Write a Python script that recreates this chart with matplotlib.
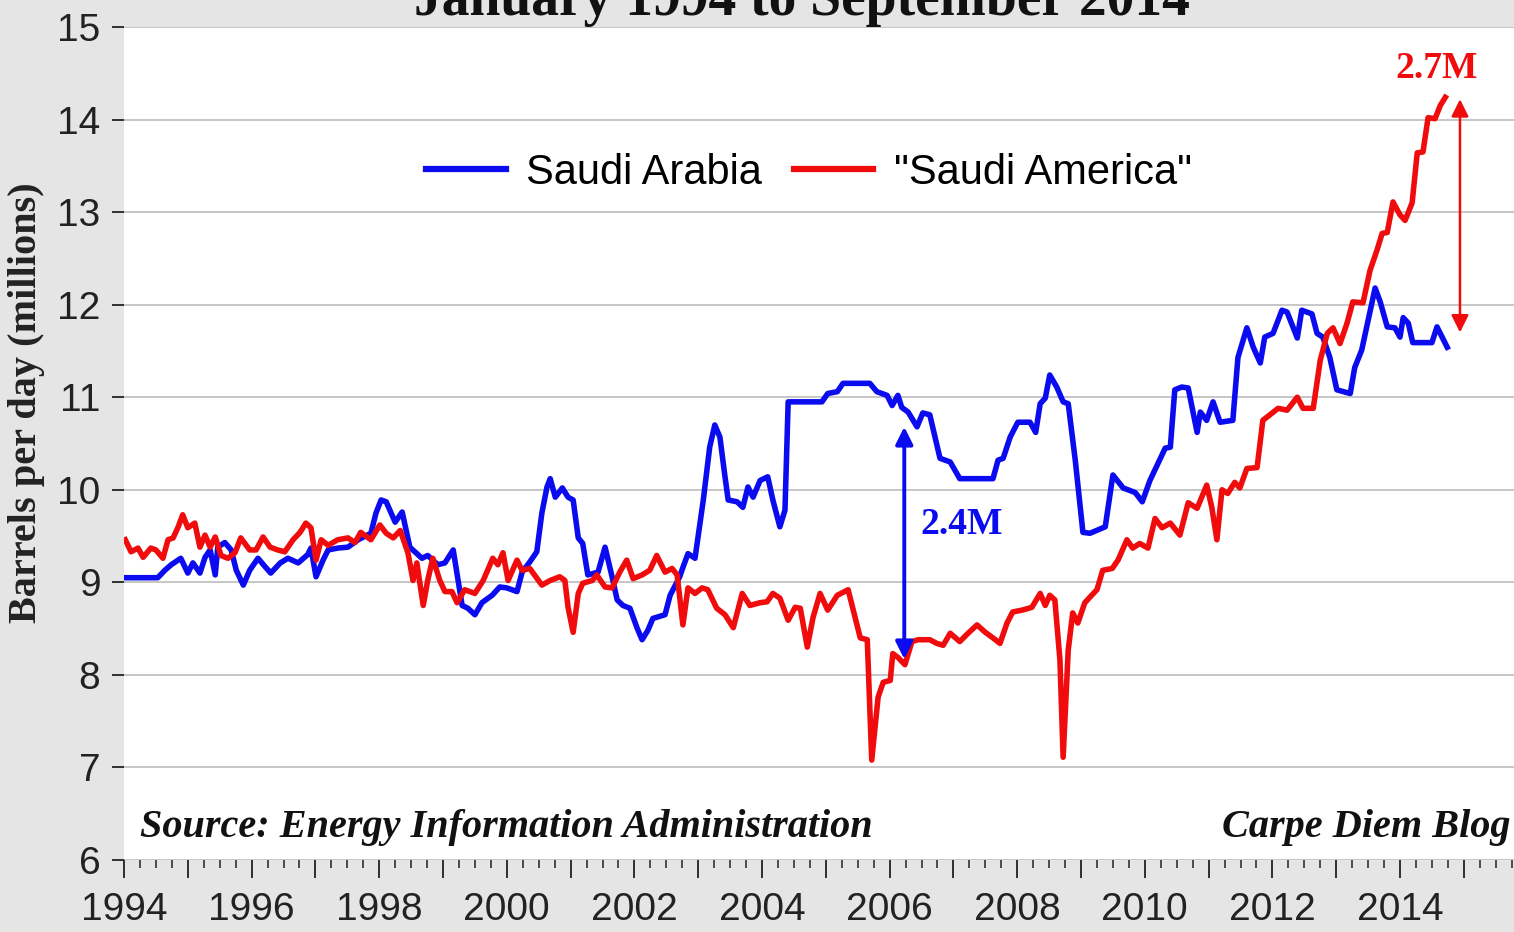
import matplotlib.pyplot as plt
from matplotlib.ticker import MultipleLocator, FuncFormatter

# Saudi Arabia crude production (million b/d)
sa_years = [1994.02, 1994.53, 1994.64, 1994.74, 1994.89, 1995.00, 1995.08, 1995.19, 1995.27, 1995.35,
            1995.43, 1995.47, 1995.58, 1995.68, 1995.76, 1995.87, 1995.97, 1996.05, 1996.10, 1996.21,
            1996.30, 1996.45, 1996.57, 1996.73, 1996.88, 1996.93, 1997.01, 1997.12, 1997.20, 1997.35,
            1997.51, 1997.67, 1997.87, 1997.95, 1998.03, 1998.11, 1998.25, 1998.36, 1998.48, 1998.67,
            1998.76, 1998.92, 1999.03, 1999.16, 1999.30, 1999.39, 1999.50, 1999.61, 1999.77, 1999.89,
            2000.00, 2000.16, 2000.24, 2000.36, 2000.47, 2000.55, 2000.63, 2000.68, 2000.76, 2000.87,
            2000.96, 2001.04, 2001.12, 2001.19, 2001.27, 2001.43, 2001.54, 2001.65, 2001.73, 2001.82,
            2001.93, 2002.04, 2002.12, 2002.21, 2002.29, 2002.48, 2002.56, 2002.71, 2002.76, 2002.84,
            2002.95, 2003.08, 2003.18, 2003.26, 2003.34, 2003.42, 2003.47, 2003.61, 2003.70, 2003.78,
            2003.86, 2003.97, 2004.09, 2004.17, 2004.28, 2004.36, 2004.41, 2004.94, 2005.03, 2005.18,
            2005.27, 2005.69, 2005.80, 2005.96, 2006.04, 2006.13, 2006.19, 2006.29, 2006.43, 2006.52,
            2006.63, 2006.79, 2006.95, 2007.10, 2007.62, 2007.70, 2007.78, 2007.89, 2008.01, 2008.20,
            2008.29, 2008.36, 2008.44, 2008.51, 2008.62, 2008.72, 2008.80, 2008.91, 2009.03, 2009.14,
            2009.38, 2009.50, 2009.66, 2009.85, 2009.96, 2010.08, 2010.21, 2010.32, 2010.40, 2010.47,
            2010.58, 2010.68, 2010.82, 2010.87, 2010.97, 2011.07, 2011.18, 2011.38, 2011.46, 2011.60,
            2011.70, 2011.81, 2011.88, 2012.01, 2012.15, 2012.23, 2012.39, 2012.46, 2012.62, 2012.70,
            2012.79, 2012.90, 2013.01, 2013.22, 2013.29, 2013.40, 2013.50, 2013.61, 2013.69, 2013.80,
            2013.92, 2014.00, 2014.05, 2014.13, 2014.20, 2014.50, 2014.58, 2014.74]
sa_vals = [9.05, 9.05, 9.13, 9.19, 9.26, 9.10, 9.21, 9.10, 9.27, 9.35,
           9.08, 9.38, 9.43, 9.35, 9.13, 8.97, 9.13, 9.21, 9.26, 9.17,
           9.10, 9.21, 9.26, 9.21, 9.30, 9.37, 9.06, 9.24, 9.35, 9.37,
           9.38, 9.46, 9.53, 9.75, 9.89, 9.87, 9.65, 9.76, 9.38, 9.26,
           9.29, 9.19, 9.21, 9.35, 8.75, 8.72, 8.65, 8.78, 8.86, 8.95,
           8.94, 8.90, 9.11, 9.22, 9.33, 9.75, 10.03, 10.12, 9.92, 10.02,
           9.92, 9.89, 9.48, 9.42, 9.08, 9.11, 9.38, 9.06, 8.81, 8.75,
           8.72, 8.51, 8.38, 8.48, 8.61, 8.65, 8.86, 9.06, 9.16, 9.31,
           9.26, 9.89, 10.46, 10.70, 10.57, 10.14, 9.89, 9.87, 9.81, 10.03,
           9.92, 10.10, 10.14, 9.89, 9.60, 9.78, 10.95, 10.95, 11.04, 11.06,
           11.15, 11.15, 11.06, 11.02, 10.91, 11.02, 10.89, 10.84, 10.68, 10.83,
           10.81, 10.34, 10.30, 10.12, 10.12, 10.32, 10.34, 10.57, 10.73, 10.73,
           10.62, 10.93, 10.99, 11.24, 11.11, 10.95, 10.93, 10.32, 9.54, 9.53,
           9.60, 10.16, 10.02, 9.97, 9.87, 10.10, 10.29, 10.45, 10.46, 11.08,
           11.11, 11.10, 10.62, 10.84, 10.75, 10.95, 10.73, 10.75, 11.43, 11.75,
           11.54, 11.37, 11.65, 11.69, 11.94, 11.92, 11.64, 11.94, 11.90, 11.69,
           11.65, 11.43, 11.08, 11.04, 11.32, 11.51, 11.83, 12.18, 12.03, 11.76,
           11.75, 11.65, 11.86, 11.80, 11.59, 11.59, 11.76, 11.54]

# United States ("Saudi America")
us_years = [1994.02, 1994.11, 1994.22, 1994.30, 1994.42, 1994.50, 1994.61, 1994.69, 1994.77, 1994.85,
            1994.92, 1995.00, 1995.11, 1995.19, 1995.27, 1995.35, 1995.43, 1995.52, 1995.63, 1995.74,
            1995.83, 1995.97, 1996.07, 1996.18, 1996.29, 1996.41, 1996.52, 1996.65, 1996.76, 1996.85,
            1996.93, 1997.01, 1997.09, 1997.20, 1997.35, 1997.51, 1997.62, 1997.71, 1997.87, 1998.01,
            1998.11, 1998.22, 1998.33, 1998.45, 1998.53, 1998.59, 1998.69, 1998.76, 1998.84, 1998.95,
            1999.03, 1999.14, 1999.22, 1999.34, 1999.50, 1999.63, 1999.78, 1999.86, 1999.94, 2000.02,
            2000.16, 2000.24, 2000.36, 2000.55, 2000.68, 2000.83, 2000.91, 2000.96, 2001.04, 2001.12,
            2001.19, 2001.34, 2001.41, 2001.54, 2001.65, 2001.77, 2001.88, 2001.98, 2002.12, 2002.24,
            2002.35, 2002.48, 2002.59, 2002.67, 2002.76, 2002.84, 2002.95, 2003.06, 2003.15, 2003.29,
            2003.42, 2003.55, 2003.69, 2003.81, 2003.97, 2004.08, 2004.17, 2004.28, 2004.41, 2004.52,
            2004.60, 2004.71, 2004.80, 2004.91, 2005.03, 2005.18, 2005.35, 2005.46, 2005.54, 2005.65,
            2005.72, 2005.82, 2005.90, 2006.01, 2006.05, 2006.13, 2006.24, 2006.35, 2006.45, 2006.63,
            2006.74, 2006.84, 2006.95, 2007.10, 2007.23, 2007.37, 2007.50, 2007.62, 2007.73, 2007.84,
            2007.93, 2008.08, 2008.23, 2008.36, 2008.44, 2008.51, 2008.59, 2008.67, 2008.72, 2008.80,
            2008.87, 2008.95, 2009.06, 2009.14, 2009.25, 2009.34, 2009.49, 2009.58, 2009.72, 2009.81,
            2009.92, 2010.05, 2010.16, 2010.27, 2010.40, 2010.55, 2010.68, 2010.82, 2010.97, 2011.05,
            2011.13, 2011.21, 2011.30, 2011.41, 2011.49, 2011.60, 2011.76, 2011.85, 2011.96, 2012.09,
            2012.23, 2012.39, 2012.48, 2012.64, 2012.75, 2012.86, 2012.95, 2013.06, 2013.17, 2013.26,
            2013.42, 2013.53, 2013.64, 2013.72, 2013.80, 2013.89, 2014.00, 2014.08, 2014.19, 2014.27,
            2014.36, 2014.44, 2014.55, 2014.63, 2014.71]
us_vals = [9.46, 9.33, 9.37, 9.27, 9.37, 9.35, 9.26, 9.46, 9.48, 9.60,
           9.73, 9.59, 9.64, 9.38, 9.51, 9.38, 9.49, 9.29, 9.26, 9.32,
           9.48, 9.35, 9.35, 9.49, 9.38, 9.35, 9.33, 9.46, 9.54, 9.64,
           9.59, 9.24, 9.46, 9.40, 9.46, 9.48, 9.43, 9.54, 9.46, 9.62,
           9.53, 9.48, 9.56, 9.32, 9.02, 9.21, 8.75, 9.02, 9.26, 9.02,
           8.90, 8.90, 8.78, 8.92, 8.88, 9.02, 9.26, 9.19, 9.32, 9.02,
           9.24, 9.13, 9.15, 8.97, 9.02, 9.06, 9.02, 8.73, 8.46, 8.88,
           8.99, 9.02, 9.08, 8.95, 8.94, 9.11, 9.24, 9.04, 9.08, 9.13,
           9.29, 9.11, 9.15, 9.08, 8.54, 8.94, 8.88, 8.94, 8.92, 8.72,
           8.65, 8.51, 8.88, 8.75, 8.78, 8.79, 8.88, 8.83, 8.59, 8.73,
           8.72, 8.30, 8.62, 8.88, 8.70, 8.86, 8.92, 8.62, 8.40, 8.38,
           7.08, 7.76, 7.92, 7.94, 8.23, 8.19, 8.11, 8.36, 8.38, 8.38,
           8.34, 8.32, 8.45, 8.36, 8.45, 8.54, 8.46, 8.40, 8.34, 8.56,
           8.68, 8.70, 8.73, 8.88, 8.75, 8.86, 8.81, 8.16, 7.11, 8.27,
           8.67, 8.56, 8.78, 8.84, 8.92, 9.13, 9.15, 9.24, 9.46, 9.37,
           9.42, 9.37, 9.69, 9.59, 9.64, 9.51, 9.86, 9.80, 10.05, 9.81,
           9.46, 10.00, 9.96, 10.08, 10.02, 10.23, 10.24, 10.75, 10.81, 10.88,
           10.86, 11.00, 10.88, 10.88, 11.40, 11.69, 11.75, 11.58, 11.80, 12.03,
           12.02, 12.37, 12.59, 12.77, 12.78, 13.11, 12.97, 12.91, 13.10, 13.64,
           13.65, 14.02, 14.01, 14.15, 14.24]

blue = '#0b0bf0'
red = '#f00c0c'
serif = 'Liberation Serif'

plt.rcParams['font.family'] = 'Liberation Sans'

fig = plt.figure(figsize=(15.14, 9.32), dpi=100, facecolor='#e5e5e5')
# axes runs to 2016, slightly past the right edge of the picture
ax = fig.add_axes([124 / 1514, 72 / 932, 22 * 63.8 / 1514, 833 / 932])
ax.set_facecolor('white')

ax.plot(sa_years, sa_vals, color=blue, lw=4.0, label='Saudi Arabia', solid_joinstyle='round')
ax.plot(us_years, us_vals, color=red, lw=4.0, label='"Saudi America"', solid_joinstyle='round')

ax.set_xlim(1994, 2016)
ax.set_ylim(6, 15)
ax.set_yticks(range(6, 16))
ax.xaxis.set_major_locator(MultipleLocator(1))
ax.xaxis.set_minor_locator(MultipleLocator(0.25))


def year_label(v, pos):
    y = int(round(v))
    if y % 2 == 0 and y <= 2014:
        return str(y)
    return ''


ax.xaxis.set_major_formatter(FuncFormatter(year_label))

ax.yaxis.grid(True, color='#c6c6c6', lw=1.4)
ax.set_axisbelow(True)
for s in ax.spines.values():
    s.set_visible(False)

ax.tick_params(axis='y', direction='out', length=9, width=1.3, pad=8, labelsize=28, colors='#222222')
ax.tick_params(axis='x', which='major', direction='out', length=13, width=1.3, pad=10,
               labelsize=28, colors='#222222')
ax.tick_params(axis='x', which='minor', direction='out', length=6, width=1.1, colors='#222222')

leg = ax.legend(loc='center', bbox_to_anchor=(0.488, 0.825), ncol=2, frameon=False, fontsize=30,
                handlelength=1.9, handletextpad=0.5, columnspacing=0.75)
for line in leg.get_lines():
    line.set_linewidth(4.5)

fig.text(27 / 1514, 1 - 403 / 932, 'Barrels per day (millions)', rotation=90, ha='center',
         va='center', fontfamily=serif, fontweight='bold', fontsize=29, color='#222222')
fig.text(802 / 1514, 1 - 15 / 932, 'January 1994 to September 2014', ha='center', va='baseline',
         fontfamily=serif, fontweight='bold', fontsize=40, color='#111111')

ax.text(1994.25, 6.35, 'Source: Energy Information Administration', ha='left', va='center',
        fontfamily=serif, fontweight='bold', fontstyle='italic', fontsize=29, color='#111111')
ax.text(2011.21, 6.35, 'Carpe Diem Blog', ha='left', va='center',
        fontfamily=serif, fontweight='bold', fontstyle='italic', fontsize=29, color='#111111')

# gap arrows
ax.annotate('', xy=(2006.23, 8.17), xytext=(2006.23, 10.68),
            arrowprops=dict(arrowstyle='<|-|>', color=blue, lw=2.8, mutation_scale=26,
                            shrinkA=0, shrinkB=0))
ax.text(2006.48, 9.62, '2.4M', color=blue, fontfamily=serif, fontweight='bold', fontsize=27,
        ha='left', va='center')
ax.annotate('', xy=(2014.94, 11.70), xytext=(2014.94, 14.22),
            arrowprops=dict(arrowstyle='<|-|>', color=red, lw=1.8, mutation_scale=26,
                            shrinkA=0, shrinkB=0))
ax.text(2013.92, 14.55, '2.7M', color=red, fontfamily=serif, fontweight='bold', fontsize=27,
        ha='left', va='center')

fig.savefig('out.png', dpi=100, facecolor=fig.get_facecolor())
